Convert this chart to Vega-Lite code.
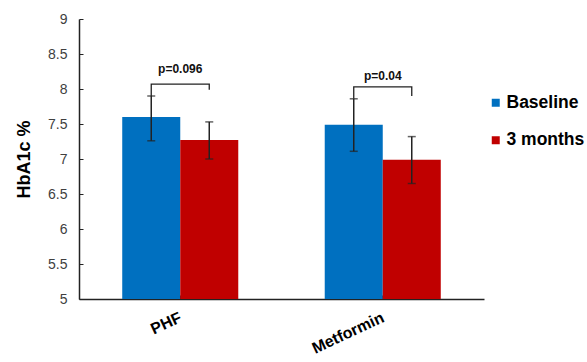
{
  "$schema": "https://vega.github.io/schema/vega-lite/v6.json",
  "autosize": "none",
  "width": 405,
  "height": 280,
  "padding": {"left": 79, "top": 19, "right": 103, "bottom": 63},
  "background": "white",
  "config": {
    "view": {"stroke": null},
    "font": "Liberation Sans",
    "axisY": {
      "titleFontSize": 18,
      "titleFontWeight": "bold",
      "titleColor": "#000000",
      "titleX": -55,
      "titleY": 140,
      "titleAlign": "center",
      "titleBaseline": "middle",
      "titleAngle": -90,
      "labelFontSize": 14,
      "labelColor": "#404040",
      "labelPadding": 16,
      "tickSize": -4,
      "tickColor": "#222222",
      "domainColor": "#222222",
      "domainWidth": 1.5,
      "grid": false
    }
  },
  "datasets": {
    "bars": [
      {"drug": "PHF", "time": "Baseline", "hba1c": 7.6, "lo": 7.26, "hi": 7.9},
      {"drug": "PHF", "time": "3 months", "hba1c": 7.27, "lo": 7.0, "hi": 7.53},
      {"drug": "Metformin", "time": "Baseline", "hba1c": 7.49, "lo": 7.11, "hi": 7.86},
      {"drug": "Metformin", "time": "3 months", "hba1c": 6.99, "lo": 6.65, "hi": 7.32}
    ],
    "brackets": [
      {"drug": "PHF", "time": "Baseline", "y": 7.9, "k": 1},
      {"drug": "PHF", "time": "Baseline", "y": 8.07, "k": 2},
      {"drug": "PHF", "time": "3 months", "y": 8.07, "k": 3},
      {"drug": "PHF", "time": "3 months", "y": 7.99, "k": 4},
      {"drug": "Metformin", "time": "Baseline", "y": 7.86, "k": 1},
      {"drug": "Metformin", "time": "Baseline", "y": 8.03, "k": 2},
      {"drug": "Metformin", "time": "3 months", "y": 8.03, "k": 3},
      {"drug": "Metformin", "time": "3 months", "y": 7.9, "k": 4}
    ],
    "pvals": [
      {"drug": "PHF", "label": "p=0.096", "y": 8.29},
      {"drug": "Metformin", "label": "p=0.04", "y": 8.19}
    ]
  },
  "encoding": {
    "x": {
      "field": "drug",
      "type": "nominal",
      "sort": ["PHF", "Metformin"],
      "scale": {"domain": ["PHF", "Metformin"], "paddingInner": 0.427, "paddingOuter": 0.2135},
      "axis": {
        "title": null,
        "labelAngle": -25,
        "labelAlign": "right",
        "labelBaseline": "top",
        "labelFontSize": 16,
        "labelFontWeight": "bold",
        "labelColor": "#000000",
        "labelPadding": 14,
        "labelOffset": -3,
        "tickSize": -4,
        "tickColor": "#222222",
        "domainColor": "#222222",
        "domainWidth": 1.5
      }
    }
  },
  "layer": [
    {
      "data": {"name": "bars"},
      "mark": {"type": "bar"},
      "encoding": {
        "xOffset": {"field": "time", "type": "nominal", "scale": {"domain": ["Baseline", "3 months"], "paddingInner": 0, "paddingOuter": 0}},
        "y": {
          "field": "hba1c",
          "type": "quantitative",
          "scale": {"domain": [5, 9], "zero": false, "nice": false},
          "axis": {"title": "HbA1c %", "values": [5, 5.5, 6, 6.5, 7, 7.5, 8, 8.5, 9], "format": "~g"}
        },
        "y2": {"datum": 5},
        "color": {
          "field": "time",
          "type": "nominal",
          "scale": {"domain": ["Baseline", "3 months"], "range": ["#0070C0", "#C00000"]},
          "legend": {
            "title": null,
            "orient": "none",
            "legendX": 408,
            "legendY": 75,
            "padding": 0,
            "symbolType": "square",
            "symbolSize": 64,
            "symbolStrokeWidth": 0,
            "labelFontSize": 17.5,
            "labelFontWeight": "bold",
            "labelColor": "#000000",
            "labelOffset": 2,
            "rowPadding": 18.5
          }
        }
      }
    },
    {
      "data": {"name": "bars"},
      "mark": {"type": "rule", "color": "#222222", "strokeWidth": 1.5},
      "encoding": {
        "xOffset": {"field": "time", "type": "nominal", "scale": {"domain": ["Baseline", "3 months"], "paddingInner": 0, "paddingOuter": 0}},
        "y": {"field": "lo", "type": "quantitative", "axis": {"title": "HbA1c %", "values": [5, 5.5, 6, 6.5, 7, 7.5, 8, 8.5, 9], "format": "~g"}},
        "y2": {"field": "hi"}
      }
    },
    {
      "data": {"name": "bars"},
      "mark": {"type": "tick", "orient": "horizontal", "color": "#222222", "size": 8, "thickness": 1.5},
      "encoding": {
        "xOffset": {"field": "time", "type": "nominal", "scale": {"domain": ["Baseline", "3 months"], "paddingInner": 0, "paddingOuter": 0}},
        "y": {"field": "lo", "type": "quantitative", "axis": {"title": "HbA1c %", "values": [5, 5.5, 6, 6.5, 7, 7.5, 8, 8.5, 9], "format": "~g"}}
      }
    },
    {
      "data": {"name": "bars"},
      "mark": {"type": "tick", "orient": "horizontal", "color": "#222222", "size": 8, "thickness": 1.5},
      "encoding": {
        "xOffset": {"field": "time", "type": "nominal", "scale": {"domain": ["Baseline", "3 months"], "paddingInner": 0, "paddingOuter": 0}},
        "y": {"field": "hi", "type": "quantitative", "axis": {"title": "HbA1c %", "values": [5, 5.5, 6, 6.5, 7, 7.5, 8, 8.5, 9], "format": "~g"}}
      }
    },
    {
      "data": {"name": "brackets"},
      "mark": {"type": "line", "color": "#222222", "strokeWidth": 1.3},
      "encoding": {
        "xOffset": {"field": "time", "type": "nominal", "scale": {"domain": ["Baseline", "3 months"], "paddingInner": 0, "paddingOuter": 0}},
        "y": {"field": "y", "type": "quantitative", "axis": {"title": "HbA1c %", "values": [5, 5.5, 6, 6.5, 7, 7.5, 8, 8.5, 9], "format": "~g"}},
        "detail": {"field": "drug"},
        "order": {"field": "k", "type": "quantitative"}
      }
    },
    {
      "data": {"name": "pvals"},
      "mark": {"type": "text", "fontSize": 12, "fontWeight": "bold", "color": "#111111", "baseline": "middle", "align": "center"},
      "encoding": {
        "y": {"field": "y", "type": "quantitative", "axis": {"title": "HbA1c %", "values": [5, 5.5, 6, 6.5, 7, 7.5, 8, 8.5, 9], "format": "~g"}},
        "text": {"field": "label"}
      }
    }
  ]
}
